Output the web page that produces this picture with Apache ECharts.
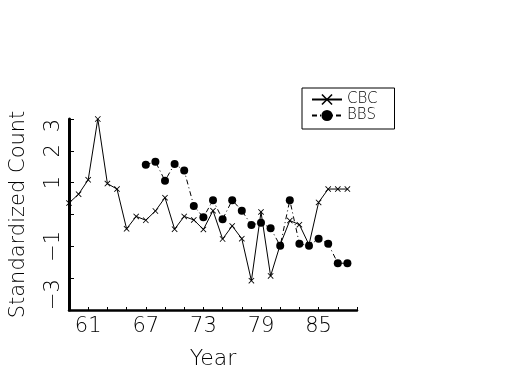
<!DOCTYPE html>
<html><head><meta charset="utf-8">
<script src="https://cdn.jsdelivr.net/npm/echarts@6/dist/echarts.min.js"></script>
<style>html,body{margin:0;padding:0;background:#fff}#c{width:525px;height:375px}</style>
</head><body><div id="c"></div>
<script>
const cbcYears = [1959,1960,1961,1962,1963,1964,1965,1966,1967,1968,1969,1970,1971,1972,1973,1974,1975,1976,1977,1978,1979,1980,1981,1982,1983,1984,1985,1986,1987,1988];
const cbcValues = [0.36,0.64,1.09,3.0,0.97,0.80,-0.45,-0.06,-0.18,0.11,0.53,-0.46,-0.06,-0.17,-0.47,0.12,-0.77,-0.36,-0.76,-2.08,0.08,-1.93,-0.95,-0.19,-0.32,-0.95,0.38,0.80,0.80,0.80];
const bbsYears = [1967,1968,1969,1970,1971,1972,1973,1974,1975,1976,1977,1978,1979,1980,1981,1982,1983,1984,1985,1986,1987,1988];
const bbsValues = [1.56,1.66,1.06,1.59,1.38,0.27,-0.09,0.45,-0.15,0.45,0.12,-0.33,-0.26,-0.43,-0.98,0.45,-0.92,-0.98,-0.76,-0.92,-1.53,-1.53];
const xLabelYears = [1961,1967,1973,1979,1985];
const yLabelValues = [3,2,1,-1,-3];

const FONT = 'DejaVu Sans';
const chart = echarts.init(document.getElementById('c'), null, {renderer:'canvas'});
const cross = 'path://M0,1L1,0L5,4L9,0L10,1L6,5L10,9L9,10L5,6L1,10L0,9L4,5Z';
chart.setOption({
  animation:false,
  backgroundColor:'#fff',
  grid:{left:68,right:168,top:119,bottom:65},
  legend:{
    left:302, top:88, orient:'vertical',
    borderColor:'#000', borderWidth:1, borderRadius:0,
    padding:[4,17,6,9], itemGap:1, itemWidth:30, itemHeight:14,
    textStyle:{fontFamily:FONT, fontSize:15, fontWeight:200, color:'#000'},
    data:['CBC','BBS']
  },
  xAxis:{
    type:'value', min:1959, max:1989, interval:2,
    name:'Year', nameLocation:'middle', nameGap:38,
    nameTextStyle:{fontFamily:FONT, fontSize:22, fontWeight:200, color:'#000'},
    axisLine:{onZero:false, lineStyle:{color:'#000', width:2.5}},
    axisTick:{inside:true, length:3, lineStyle:{color:'#000'}},
    splitLine:{show:false},
    axisLabel:{
      margin:6, fontFamily:FONT, fontSize:21, fontWeight:200, color:'#000',
      showMinLabel:true, showMaxLabel:true,
      formatter:v => xLabelYears.indexOf(v) >= 0 ? String(v).slice(2) : ''
    }
  },
  yAxis:{
    type:'value', min:-3, max:3, interval:1,
    name:'Standardized Count', nameLocation:'middle', nameGap:40,
    nameTextStyle:{fontFamily:FONT, fontSize:21, fontWeight:200, color:'#000'},
    axisLine:{show:true, onZero:false, lineStyle:{color:'#000', width:3}},
    axisTick:{show:true, inside:true, length:5, lineStyle:{color:'#000'}},
    splitLine:{show:false},
    axisLabel:{
      rotate:90, margin:5, fontFamily:FONT, fontSize:21, fontWeight:200, color:'#000',
      alignMinLabel:'left', alignMaxLabel:'right',
      formatter:v => yLabelValues.indexOf(v) >= 0 ? (v < 0 ? '\u2212' + Math.abs(v) : String(v)) : ''
    }
  },
  series:[
    {
      name:'CBC', type:'line',
      data:cbcYears.map((y,i)=>[y,cbcValues[i]]),
      symbol:cross, symbolSize:6, showAllSymbol:true,
      lineStyle:{color:'#000', width:1},
      itemStyle:{color:'#000'}
    },
    {
      name:'BBS', type:'line',
      data:bbsYears.map((y,i)=>[y,bbsValues[i]]),
      symbol:'circle', symbolSize:8, showAllSymbol:true,
      lineStyle:{color:'#000', width:1, type:[5,3,1,3]},
      itemStyle:{color:'#000'}
    }
  ]
});
</script></body></html>
